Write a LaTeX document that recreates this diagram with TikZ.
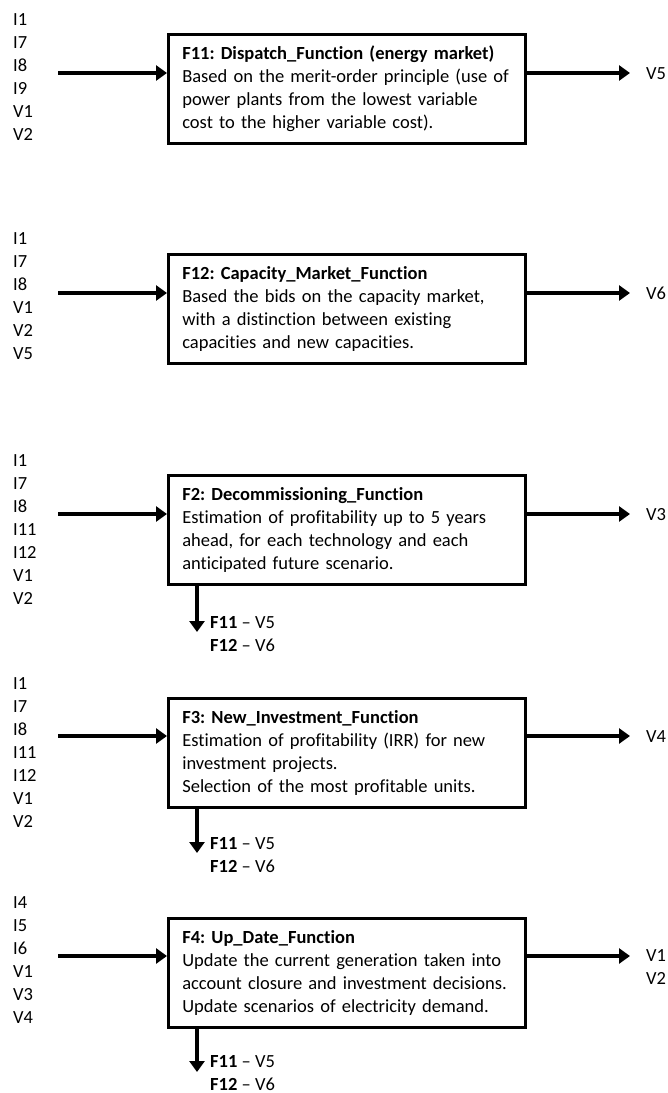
\documentclass[tikz,border=0pt]{standalone}
\usepackage{fontspec}
\setmainfont{Carlito}[Ligatures=NoCommon]
\frenchspacing
\usetikzlibrary{arrows.meta}
\tikzset{
  fbox/.style={draw, line width=2.6pt, minimum height=109pt, inner xsep=14pt,
    inner ysep=0pt, text width=329pt, align=left, anchor=north west,
    font=\fontsize{18.5}{23}\selectfont},
  lbl/.style={inner sep=0pt, align=left, anchor=base west,
    font=\fontsize{18.5}{23}\selectfont},
  flow/.style={line width=3.3pt, -{Triangle[length=11pt,width=15pt]}},
}
\begin{document}
\begin{tikzpicture}[x=1pt,y=-1pt]
\useasboundingbox (0,0) rectangle (668,1093);

% F11: dispatch on the energy market
\node[fbox] (f11) at (167,33) {\mbox{\textbf{F11: Dispatch\_Function (energy market)}}\\
  \mbox{Based on the merit-order principle (use of}\\
  \mbox{power plants from the lowest variable}\\
  \mbox{cost to the higher variable cost).}};
\node[lbl] (i11) at (13,140) {I1\\I7\\I8\\I9\\V1\\V2};
\coordinate (s11) at (58,73);
\coordinate (e11) at (630,73);
\draw[flow] (s11) -- (s11 -| f11.west);
\draw[flow] (e11 -| f11.east) -- (e11);
\node[lbl] (o11) at (646,79) {V5};

% F12: capacity market
\node[fbox] (f12) at (167,253) {\mbox{\textbf{F12: Capacity\_Market\_Function}}\\
  \mbox{Based the bids on the capacity market,}\\
  \mbox{with a distinction between existing}\\
  \mbox{capacities and new capacities.}};
\node[lbl] (i12) at (13,359) {I1\\I7\\I8\\V1\\V2\\V5};
\coordinate (s12) at (58,293);
\coordinate (e12) at (630,293);
\draw[flow] (s12) -- (s12 -| f12.west);
\draw[flow] (e12 -| f12.east) -- (e12);
\node[lbl] (o12) at (646,299) {V6};

% F2: decommissioning
\node[fbox] (f2) at (167,474) {\mbox{\textbf{F2: Decommissioning\_Function}}\\
  \mbox{Estimation of profitability up to 5 years}\\
  \mbox{ahead, for each technology and each}\\
  \mbox{anticipated future scenario.}};
\node[lbl] (i2) at (13,604) {I1\\I7\\I8\\I11\\I12\\V1\\V2};
\coordinate (s2) at (58,514);
\coordinate (e2) at (630,514);
\draw[flow] (s2) -- (s2 -| f2.west);
\draw[flow] (e2 -| f2.east) -- (e2);
\node[lbl] (o2) at (646,520) {V3};
\coordinate (d2) at (197,632);
\draw[flow] (d2 |- f2.south) -- (d2);
\node[lbl] (c2) at (210,651) {\textbf{F11} – V5\\\textbf{F12} – V6};

% F3: new investment
\node[fbox] (f3) at (167,697) {\mbox{\textbf{F3: New\_Investment\_Function}}\\
  \mbox{Estimation of profitability (IRR) for new}\\
  \mbox{investment projects.}\\
  \mbox{Selection of the most profitable units.}};
\node[lbl] (i3) at (13,827) {I1\\I7\\I8\\I11\\I12\\V1\\V2};
\coordinate (s3) at (58,736);
\coordinate (e3) at (630,736);
\draw[flow] (s3) -- (s3 -| f3.west);
\draw[flow] (e3 -| f3.east) -- (e3);
\node[lbl] (o3) at (646,742) {V4};
\coordinate (d3) at (197,853);
\draw[flow] (d3 |- f3.south) -- (d3);
\node[lbl] (c3) at (210,872) {\textbf{F11} – V5\\\textbf{F12} – V6};

% F4: update
\node[fbox] (f4) at (167,917) {\mbox{\textbf{F4: Up\_Date\_Function}}\\
  \mbox{Update the current generation taken into}\\
  \mbox{account closure and investment decisions.}\\
  \mbox{Update scenarios of electricity demand.}};
\node[lbl] (i4) at (13,1023) {I4\\I5\\I6\\V1\\V3\\V4};
\coordinate (s4) at (58,956);
\coordinate (e4) at (630,956);
\draw[flow] (s4) -- (s4 -| f4.west);
\draw[flow] (e4 -| f4.east) -- (e4);
\node[lbl] (o4) at (646,984) {V1\\V2};
\coordinate (d4) at (197,1072);
\draw[flow] (d4 |- f4.south) -- (d4);
\node[lbl] (c4) at (210,1090) {\textbf{F11} – V5\\\textbf{F12} – V6};
\end{tikzpicture}
\end{document}
